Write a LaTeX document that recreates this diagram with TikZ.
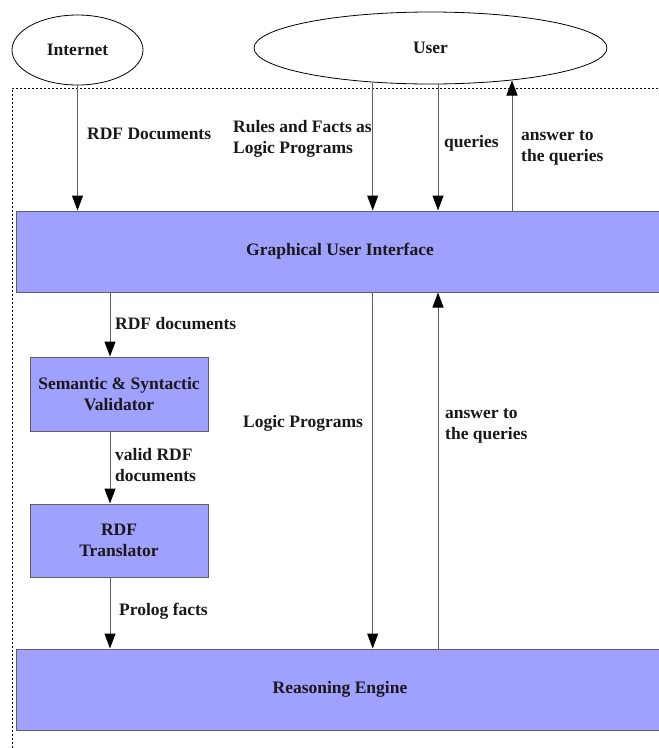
\documentclass[tikz,border=0pt]{standalone}
\usepackage{fontspec}
\setmainfont{Liberation Serif}
\usetikzlibrary{arrows.meta,shapes.geometric}
\definecolor{boxfill}{RGB}{160,160,255}
\definecolor{linegray}{RGB}{95,95,95}
\begin{document}
\begin{tikzpicture}[x=1pt,y=-1pt,
  txt/.style={font=\fontsize{17.5}{21.5}\selectfont\bfseries, inner sep=0pt, text=black!90},
  box/.style={txt, draw=linegray, line width=1pt, fill=boxfill, align=center},
  ell/.style={txt, draw=black, line width=0.8pt, ellipse, inner sep=0pt},
  arr/.style={draw=linegray, line width=1pt, -{Triangle[length=15pt,width=11pt,color=black,fill=black]}},
  lbl/.style={txt, anchor=north west, align=left},
  frame/.style={draw=black, line width=0.7pt, dash pattern=on 2pt off 2pt}]
\useasboundingbox (0,0) rectangle (659,748);
% dotted frame
\draw[frame] (12,760) |- (700,88);
% ellipses
\node[ell, minimum width=131pt, minimum height=70pt] (internet) at (77.5,50) {Internet};
\node[ell, minimum width=353pt, minimum height=72pt] (user) at (430.5,48) {User};
% boxes
\node[box, minimum width=648pt, minimum height=81pt] (gui) at (340,251.5) {Graphical User Interface};
\node[box, minimum width=178pt, minimum height=74pt] (sem) at (119,394) {Semantic \& Syntactic\\Validator};
\node[box, minimum width=178pt, minimum height=73pt] (trans) at (119,540.5) {RDF\\Translator};
\node[box, minimum width=648pt, minimum height=81pt] (reason) at (340,689.5) {Reasoning Engine};
% helper coordinates
\coordinate (u1) at (372.7,82.5);
\coordinate (u2) at (438,84.2);
\coordinate (u3) at (512,80.5);
\coordinate (lx) at (110,0);
% connectors
\draw[arr] (internet.south) -- (internet.south |- gui.north);
\draw[arr] (u1) -- (u1 |- gui.north);
\draw[arr] (u2) -- (u2 |- gui.north);
\draw[arr] (u3 |- gui.north) -- (u3);
\draw[arr] (lx |- gui.south) -- (lx |- sem.north);
\draw[arr] (lx |- sem.south) -- (lx |- trans.north);
\draw[arr] (lx |- trans.south) -- (lx |- reason.north);
\draw[arr] (u1 |- gui.south) -- (u1 |- reason.north);
\draw[arr] (u2 |- reason.north) -- (u2 |- gui.south);
% labels
\node[lbl] (l1) at (87,128) {RDF Documents};
\node[lbl] (l2) at (233,120) {Rules and Facts as\\Logic Programs};
\node[lbl] (l3) at (444,135) {queries};
\node[lbl] (l4) at (521,130) {answer to\\the queries};
\node[lbl] (l5) at (115,317) {RDF documents};
\node[lbl] (l6) at (115,448) {valid RDF\\documents};
\node[lbl] (l7) at (119,603) {Prolog facts};
\node[lbl] (l8) at (243,415) {Logic Programs};
\node[lbl] (l9) at (445,408) {answer to\\the queries};
\end{tikzpicture}
\end{document}
